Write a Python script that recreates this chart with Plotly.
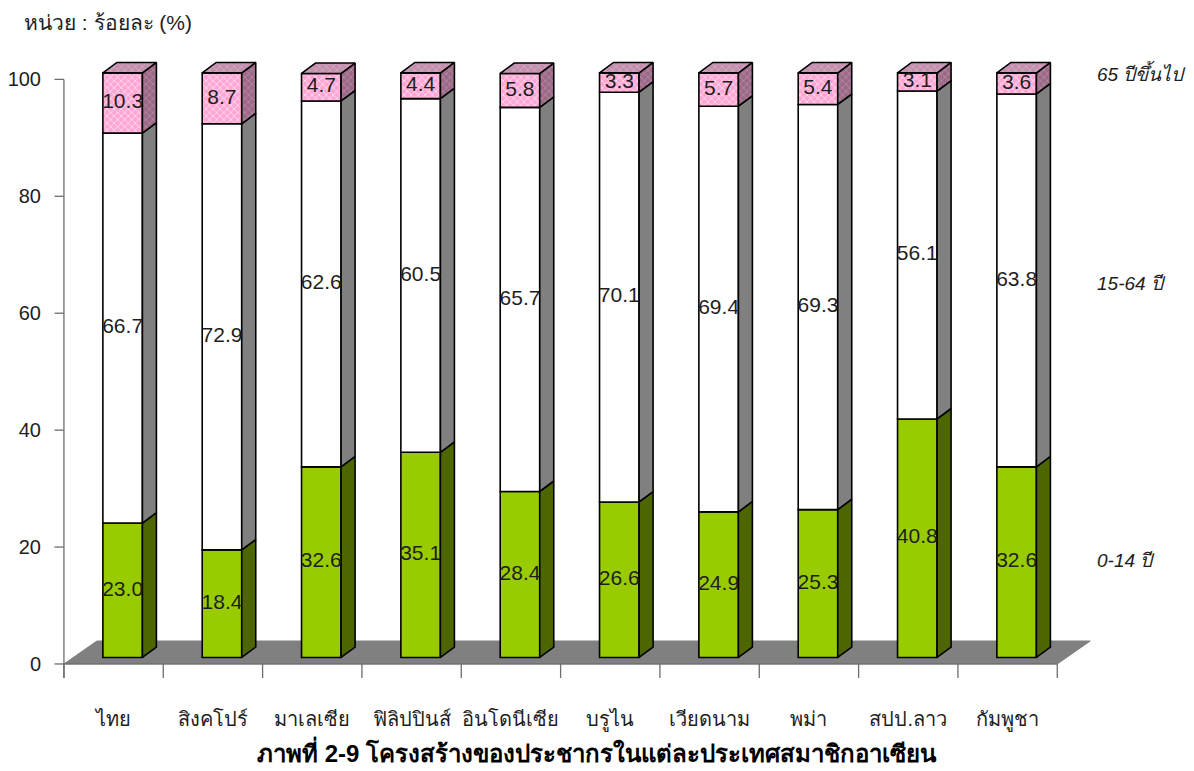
import plotly.graph_objects as go

# ---------------- data ----------------
countries = ["ไทย", "สิงคโปร์", "มาเลเซีย", "ฟิลิปปินส์", "อินโดนีเซีย",
             "บรูไน", "เวียดนาม", "พม่า", "สปป.ลาว", "กัมพูชา"]
age_0_14 = [23.0, 18.4, 32.6, 35.1, 28.4, 26.6, 24.9, 25.3, 40.8, 32.6]
age_15_64 = [66.7, 72.9, 62.6, 60.5, 65.7, 70.1, 69.4, 69.3, 56.1, 63.8]
age_65_up = [10.3, 8.7, 4.7, 4.4, 5.8, 3.3, 5.7, 5.4, 3.1, 3.6]
series_names = ["0-14 ปี", "15-64 ปี", "65 ปีขึ้นไป"]
y_ticks = [0, 20, 40, 60, 80, 100]
unit_label = "หน่วย : ร้อยละ (%)"
title_text = "ภาพที่ 2-9 โครงสร้างของประชากรในแต่ละประเทศสมาชิกอาเซียน"

# ---------------- style / geometry (pseudo 3D) ----------------
PAGE_OFF = 8                      # default body margin of the html page
W, H = 1194 - PAGE_OFF, 771 - PAGE_OFF
X_RANGE = [-0.6, 9.9]
Y_RANGE = [-2.4, 104]
ML, MR = 54.07 - PAGE_OFF, 97.33
MT, MB = 55.6 - PAGE_OFF, 92.96
BAR_W = 0.398
OX, OY = 0.091, 1.11          # bar front offset from the front plane
SDX, SDY = 0.141, 1.79        # bar depth
FDX, FDY = 0.332, 3.93        # floor depth
FRONT = ["#99CC00", "#FFFFFF", "#FFA6D5"]
SIDE = ["#4D6600", "#808080", "#9A6A86"]
TOP = "#C28FAD"
FLOOR = "#808080"
AXIS = "#6E6E6E"
TXT = "#1E1E1E"
FONT = "Arial, Liberation Sans, Tahoma, sans-serif"

series = [age_0_14, age_15_64, age_65_up]
n = len(countries)
xs = list(range(n))

fig = go.Figure()

# floor (shape below traces)
x_lo, x_hi = -0.5, n - 0.5
floor_path = (f"M {x_lo},0 L {x_lo + FDX},{FDY} L {x_hi + FDX},{FDY} "
              f"L {x_hi},0 Z")
fig.add_shape(type="path", path=floor_path, xref="x", yref="y",
              fillcolor=FLOOR, line=dict(color=FLOOR, width=1), layer="below")

# front faces (bars)
bases = [0.0] * n
seg_bounds = []
for k, vals in enumerate(series):
    b = list(bases)
    seg_bounds.append((b, [b[i] + vals[i] for i in range(n)]))
    marker = dict(color=FRONT[k], line=dict(color="black", width=1.6))
    if k == 2:
        marker["pattern"] = dict(shape="x", fgcolor="#FFFFFF", bgcolor=FRONT[k],
                                 size=5, solidity=0.2, fillmode="replace")
    fig.add_trace(go.Bar(
        x=[x + OX for x in xs], y=vals, base=[v + OY for v in b],
        width=BAR_W, marker=marker, showlegend=False, hoverinfo="skip"))
    bases = [bases[i] + vals[i] for i in range(n)]

# side faces
for k in range(3):
    lo, hi = seg_bounds[k]
    px, py = [], []
    for i in range(n):
        xr = xs[i] + OX + BAR_W / 2
        y0, y1 = lo[i] + OY, hi[i] + OY
        px += [xr, xr + SDX, xr + SDX, xr, xr, None]
        py += [y0, y0 + SDY, y1 + SDY, y1, y0, None]
    kw = {}
    if k == 2:
        kw["fillpattern"] = dict(shape="x", fgcolor="#C99BB6", bgcolor=SIDE[k],
                                 size=5, solidity=0.2, fillmode="replace")
    fig.add_trace(go.Scatter(x=px, y=py, mode="lines", fill="toself",
                             fillcolor=SIDE[k], line=dict(color="black", width=1.6),
                             showlegend=False, hoverinfo="skip", **kw))

# top faces
tops = seg_bounds[2][1]
px, py = [], []
for i in range(n):
    xl = xs[i] + OX - BAR_W / 2
    xr = xs[i] + OX + BAR_W / 2
    t = tops[i] + OY
    px += [xl, xl + SDX, xr + SDX, xr, xl, None]
    py += [t, t + SDY, t + SDY, t, t, None]
fig.add_trace(go.Scatter(x=px, y=py, mode="lines", fill="toself", fillcolor=TOP,
                         fillpattern=dict(shape="x", fgcolor="#E2BCD2", bgcolor=TOP,
                                          size=5, solidity=0.2, fillmode="replace"),
                         line=dict(color="black", width=1.6),
                         showlegend=False, hoverinfo="skip"))

# value labels
for k, vals in enumerate(series):
    lo, hi = seg_bounds[k]
    fig.add_trace(go.Scatter(
        x=[x + OX for x in xs], y=[(lo[i] + hi[i]) / 2 + OY for i in range(n)],
        mode="text", text=[f"{v:.1f}" for v in vals],
        textfont=dict(family=FONT, size=21, color=TXT),
        showlegend=False, hoverinfo="skip", cliponaxis=False))

# axis frame lines (axis line, ticks, category separators)
ax_x, ax_y = [], []
ax_x += [x_lo, x_lo, None]; ax_y += [Y_RANGE[0], max(y_ticks), None]
for t in y_ticks:
    ax_x += [x_lo - 0.095, x_lo, None]; ax_y += [t, t, None]
ax_x += [x_lo, x_hi, None]; ax_y += [0, 0, None]
for i in range(n + 1):
    ax_x += [x_lo + i, x_lo + i, None]; ax_y += [0, Y_RANGE[0], None]
fig.add_trace(go.Scatter(x=ax_x, y=ax_y, mode="lines",
                         line=dict(color=AXIS, width=1.3),
                         showlegend=False, hoverinfo="skip"))

# annotations positioned in screen pixels
plot_w = W - ML - MR
plot_h = H - MT - MB
def px2paper(xp, yp):
    xp -= PAGE_OFF
    yp -= PAGE_OFF
    return (xp - ML) / plot_w, (H - MB - yp) / plot_h

for name, ypix in zip(series_names, [560, 283, 72]):
    ax, ay = px2paper(1095, ypix)
    fig.add_annotation(x=ax, y=ay, xref="paper", yref="paper", text=f"<i>{name}</i>",
                       showarrow=False, xanchor="left", yanchor="middle",
                       font=dict(family=FONT, size=19, color=TXT))

ax, ay = px2paper(22, 22)
fig.add_annotation(x=ax, y=ay, xref="paper", yref="paper", text=unit_label,
                   showarrow=False, xanchor="left", yanchor="middle",
                   font=dict(family=FONT, size=21, color=TXT))
ax, ay = px2paper(597, 752)
fig.add_annotation(x=ax, y=ay, xref="paper", yref="paper", text=f"<b>{title_text}</b>",
                   showarrow=False, xanchor="center", yanchor="middle",
                   font=dict(family=FONT, size=24, color="black"))

fig.update_layout(
    width=W, height=H, barmode="overlay",
    margin=dict(l=ML, r=MR, t=MT, b=MB, pad=0, autoexpand=False),
    paper_bgcolor="white", plot_bgcolor="white",
    showlegend=False,
    xaxis=dict(range=X_RANGE, tickvals=xs, ticktext=countries, ticks="",
               showgrid=False, zeroline=False, showline=False, automargin=False,
               ticklabelstandoff=27,
               tickfont=dict(family=FONT, size=20, color=TXT)),
    yaxis=dict(range=Y_RANGE, tickvals=y_ticks, ticks="", showgrid=False,
               zeroline=False, showline=False, automargin=False,
               ticklabelstandoff=12,
               tickfont=dict(family=FONT, size=20, color=TXT)),
)

fig.write_html("out.html")
